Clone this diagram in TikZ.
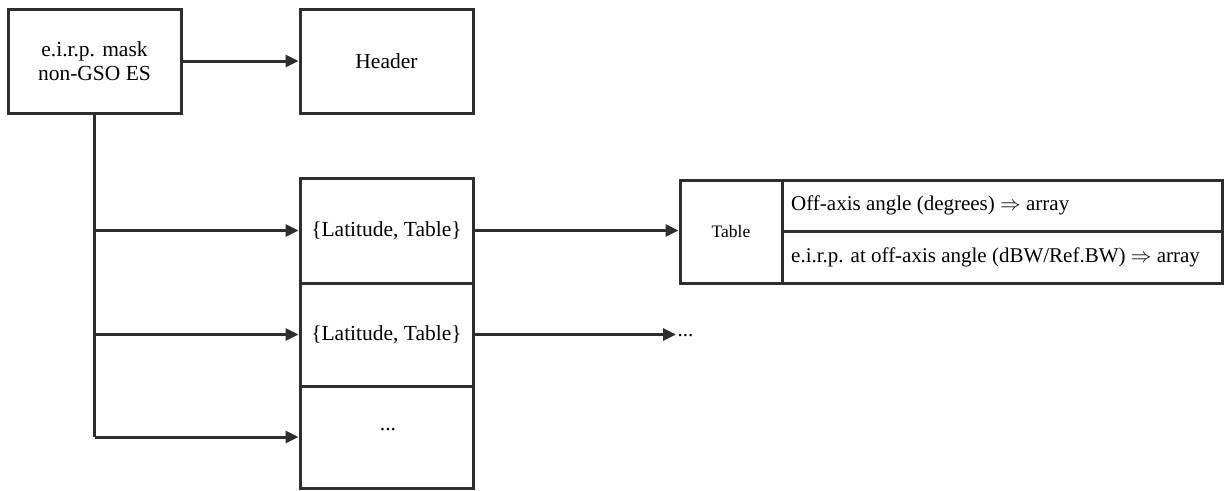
\documentclass[tikz,border=0pt]{standalone}
\usepackage{fontspec}
\setmainfont{Liberation Serif}
\usetikzlibrary{arrows.meta}
\begin{document}
\begin{tikzpicture}[x=1pt,y=-1pt,
  box/.style={draw=black!82,line width=3pt,minimum width=173pt,inner sep=0pt,align=center,font=\fontsize{21.5}{24}\selectfont},
  cell/.style={draw=black!82,line width=3pt,inner sep=0pt},
  arr/.style={draw=black!82,line width=3pt,-{Triangle[length=13pt,width=12pt]}},
  ln/.style={draw=black!82,line width=3pt}]
\useasboundingbox (0,0) rectangle (1231,490);
\node[box,minimum height=104pt] (mask) at (94.5,61) {e.i.r.p. mask\\non-GSO ES};
\node[box,minimum height=104pt] (header) at (386.5,61) {Header};
\node[box,minimum height=105pt] (lt1) at (386.5,230.5) {\{Latitude, Table\}};
\node[box,minimum height=103pt] (lt2) at (386.5,334.5) {\{Latitude, Table\}};
\node[box,minimum height=102pt] (dots) at (386.5,437) {};
\node[font=\fontsize{21.5}{24}\selectfont,inner sep=0pt] (dotstxt) at (388,430) {...};
\node[cell,minimum width=102pt,minimum height=103pt,font=\fontsize{17.5}{20}\selectfont] (tbl) at (731,231.5) {Table};
\node[cell,minimum width=440pt,minimum height=51pt] (r1) at (1002,205.5) {};
\node[cell,minimum width=440pt,minimum height=52pt] (r2) at (1002,257) {};
\node[anchor=west,inner sep=0pt,font=\fontsize{21}{24}\selectfont] (r1t) at (791,205.5) {Off-axis angle (degrees) $\Rightarrow$ array};
\node[anchor=west,inner sep=0pt,font=\fontsize{21}{24}\selectfont] (r2t) at (791,257) {e.i.r.p. at off-axis angle (dBW/Ref.BW) $\Rightarrow$ array};
\node[anchor=west,inner sep=1.5pt,font=\fontsize{21}{24}\selectfont] (more) at (676,336) {...};
\draw[arr] (mask.east) -- (header.west);
\draw[ln] (mask.south) -- (mask.south |- dots.west);
\draw[arr] (mask.south |- lt1.west) -- (lt1.west);
\draw[arr] (mask.south |- lt2.west) -- (lt2.west);
\draw[arr] (mask.south |- dots.west) -- (dots.west);
\draw[arr] (lt1.east) -- (lt1.east -| tbl.west);
\draw[arr] (lt2.east) -- (lt2.east -| more.west);
\end{tikzpicture}
\end{document}
